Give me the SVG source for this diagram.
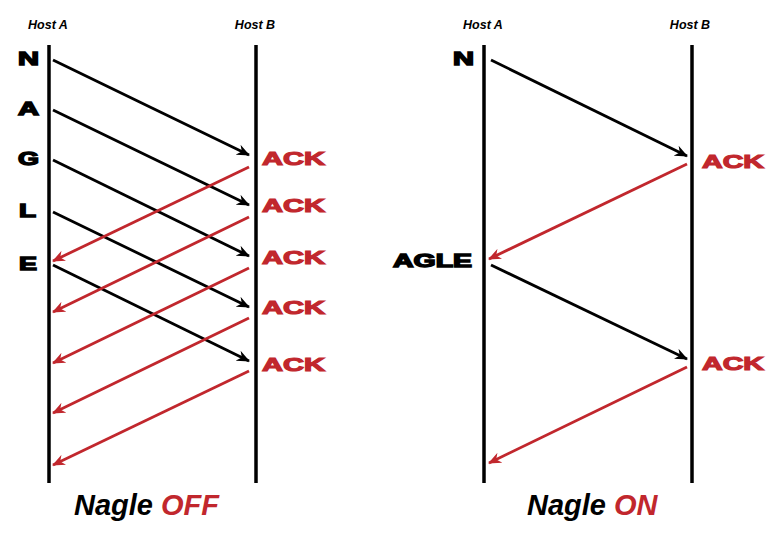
<svg xmlns="http://www.w3.org/2000/svg" width="778" height="533" viewBox="0 0 778 533">
<defs>
<style>
.life{stroke:#000;stroke-width:3.5;fill:none}
.msg{stroke:#000;stroke-width:2.8;fill:none}
.ack{stroke:#c1272d;stroke-width:2.8;fill:none}
.host{font-family:"Liberation Sans",Arial,sans-serif;font-weight:bold;font-style:italic;font-size:12.5px;fill:#000}
.let{font-family:"Liberation Sans",Arial,sans-serif;font-weight:bold;font-size:18px;fill:#000;stroke:#000;stroke-width:1.4}
.ackt{font-family:"Liberation Sans",Arial,sans-serif;font-weight:bold;font-size:19px;fill:#c1272d;stroke:#c1272d;stroke-width:1.2}
.title{font-family:"Liberation Sans",Arial,sans-serif;font-weight:bold;font-style:italic;font-size:29px;fill:#000}
.red{fill:#c1272d}
</style>
<marker id="ab" viewBox="0 0 13 11" refX="12" refY="5.5" markerWidth="13" markerHeight="11" markerUnits="userSpaceOnUse" orient="auto">
<path d="M0,0 L13,5.5 L0,11 L4,5.5 z" fill="#000"/>
</marker>
<marker id="ar" viewBox="0 0 13 11" refX="12" refY="5.5" markerWidth="13" markerHeight="11" markerUnits="userSpaceOnUse" orient="auto">
<path d="M0,0 L13,5.5 L0,11 L4,5.5 z" fill="#c1272d"/>
</marker>
</defs>
<rect width="778" height="533" fill="#fff"/>

<g id="off-hostA">
<text class="host" x="48" y="29" text-anchor="middle">Host A</text>
<line class="life" x1="49" y1="45" x2="49" y2="483"/>
</g>
<g id="off-hostB">
<text class="host" x="255" y="29" text-anchor="middle">Host B</text>
<line class="life" x1="256" y1="45" x2="256" y2="483"/>
</g>
<g id="off-letters">
<text class="let" x="18" y="65" textLength="21" lengthAdjust="spacingAndGlyphs">N</text>
<text class="let" x="18" y="115" textLength="21" lengthAdjust="spacingAndGlyphs">A</text>
<text class="let" x="18" y="165" textLength="21" lengthAdjust="spacingAndGlyphs">G</text>
<text class="let" x="19" y="217" textLength="17" lengthAdjust="spacingAndGlyphs">L</text>
<text class="let" x="19" y="270" textLength="18" lengthAdjust="spacingAndGlyphs">E</text>
</g>
<g id="off-acks">
<text class="ackt" x="262" y="165" textLength="63" lengthAdjust="spacingAndGlyphs">ACK</text>
<text class="ackt" x="262" y="212" textLength="63" lengthAdjust="spacingAndGlyphs">ACK</text>
<text class="ackt" x="262" y="264" textLength="63" lengthAdjust="spacingAndGlyphs">ACK</text>
<text class="ackt" x="262" y="314" textLength="63" lengthAdjust="spacingAndGlyphs">ACK</text>
<text class="ackt" x="262" y="371" textLength="63" lengthAdjust="spacingAndGlyphs">ACK</text>
</g>

<g id="on-hostA">
<text class="host" x="483" y="29" text-anchor="middle">Host A</text>
<line class="life" x1="484" y1="45" x2="484" y2="483"/>
</g>
<g id="on-hostB">
<text class="host" x="690" y="29" text-anchor="middle">Host B</text>
<line class="life" x1="692" y1="45" x2="692" y2="483"/>
</g>
<g id="on-letters">
<text class="let" x="453" y="65" textLength="21" lengthAdjust="spacingAndGlyphs">N</text>
<text class="let" x="393" y="267" textLength="79" lengthAdjust="spacingAndGlyphs">AGLE</text>
</g>
<g id="on-acks">
<text class="ackt" x="702" y="168" textLength="62" lengthAdjust="spacingAndGlyphs">ACK</text>
<text class="ackt" x="702" y="370" textLength="62" lengthAdjust="spacingAndGlyphs">ACK</text>
</g>

<g id="connectors">
<line class="msg" x1="53" y1="60" x2="249" y2="155" marker-end="url(#ab)"/>
<line class="msg" x1="53" y1="110" x2="249" y2="205" marker-end="url(#ab)"/>
<line class="msg" x1="53" y1="160" x2="249" y2="256" marker-end="url(#ab)"/>
<line class="msg" x1="53" y1="212" x2="249" y2="307" marker-end="url(#ab)"/>
<line class="msg" x1="53" y1="265" x2="249" y2="361" marker-end="url(#ab)"/>
<line class="ack" x1="249" y1="167" x2="53" y2="261" marker-end="url(#ar)"/>
<line class="ack" x1="249" y1="217" x2="53" y2="312" marker-end="url(#ar)"/>
<line class="ack" x1="249" y1="268" x2="53" y2="363" marker-end="url(#ar)"/>
<line class="ack" x1="249" y1="318" x2="53" y2="413" marker-end="url(#ar)"/>
<line class="ack" x1="249" y1="371" x2="53" y2="465" marker-end="url(#ar)"/>
<line class="msg" x1="491" y1="60" x2="687" y2="156" marker-end="url(#ab)"/>
<line class="ack" x1="687" y1="164" x2="489" y2="259" marker-end="url(#ar)"/>
<line class="msg" x1="491" y1="265" x2="687" y2="359" marker-end="url(#ab)"/>
<line class="ack" x1="687" y1="367" x2="489" y2="463" marker-end="url(#ar)"/>
</g>

<g id="titles">
<text class="title" x="74" y="515">Nagle <tspan class="red">OFF</tspan></text>
<text class="title" x="527" y="515">Nagle <tspan class="red">ON</tspan></text>
</g>
</svg>
